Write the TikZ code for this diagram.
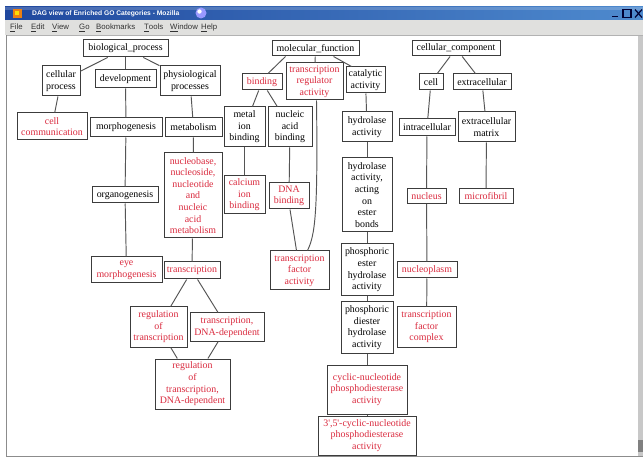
\documentclass[tikz,border=0pt]{standalone}
\usepackage{fontspec}
\setmainfont{Liberation Serif}
\newfontfamily\gofamily{Liberation Serif}
\newfontfamily\uifamily{Liberation Sans}
\newcommand\gofnt{\gofamily\fontsize{9.9}{11.6}\selectfont}
\newcommand\titlefnt{\uifamily\bfseries\fontsize{6.7}{8}\selectfont}
\newcommand\menufnt{\uifamily\fontsize{7.8}{9}\selectfont}
\definecolor{gored}{RGB}{218,42,62}
\definecolor{boxgray}{RGB}{60,60,60}
\definecolor{edgegray}{RGB}{85,85,85}
\definecolor{menugray}{RGB}{224,224,222}
\definecolor{tbleft}{RGB}{32,72,158}
\definecolor{tbright}{RGB}{78,138,206}
\definecolor{scrollgray}{RGB}{200,200,200}
\tikzset{
  gobox/.style={draw=boxgray, line width=1pt, fill=white, align=center,
    inner sep=1.2pt, font=\gofnt, text=black},
  redtxt/.style={text=gored},
  sz/.style 2 args={minimum width=#1pt, minimum height=#2pt},
  goedge/.style={draw=edgegray, line width=0.95pt},
  menuitem/.style={anchor=west, inner sep=0pt, font=\menufnt, text=black!80},
}
\begin{document}
\begin{tikzpicture}[x=1pt,y=-1pt]
\useasboundingbox (0,0) rectangle (643,457);
\fill[white] (0,0) rectangle (643,457);
% ---------- window chrome ----------
\shade[left color=tbleft, right color=tbright] (5,7) rectangle (643,20);
\fill[white, opacity=0.18] (5,7) rectangle (643,10);
\fill[menugray] (5,20) rectangle (643,35);
\draw[black!45, line width=0.8pt] (6.5,35.5) -- (6.5,456) -- (643,456);
\draw[black!30, line width=0.6pt] (6.5,35.5) -- (643,35.5);
\fill[scrollgray] (638,36) rectangle (643,456);
\fill[black!50] (638,440) rectangle (643,452);
% icons and buttons
\fill[orange!70!brown] (13,9) rectangle (22,18);
\fill[yellow!80!orange] (15,11) rectangle (19,15);
\node[anchor=west, inner sep=0pt, text=white, font=\titlefnt] (title) at (32,13.5)
  {DAG view of Enriched GO Categories - Mozilla};
\fill[white!60!blue] (201,13) circle (5.5);
\fill[white] (199.5,11.5) circle (2.2);
\draw[blue!20!black, line width=1.2pt] (612,16.5) -- (618,16.5);
\draw[blue!20!black, line width=1.1pt] (623,9.5) rectangle (631,17.5);
\draw[blue!20!black, line width=1.2pt] (635,9.5) -- (642,17.5) (642,9.5) -- (635,17.5);
% menu
\node[menuitem] (mfile) at (10,28) {\underline{F}ile};
\node[menuitem] (medit) at (31,28) {\underline{E}dit};
\node[menuitem] (mview) at (52,28) {\underline{V}iew};
\node[menuitem] (mgo) at (79,28) {\underline{G}o};
\node[menuitem] (mbook) at (96,28) {\underline{B}ookmarks};
\node[menuitem] (mtools) at (144,28) {\underline{T}ools};
\node[menuitem] (mwin) at (170,28) {\underline{W}indow};
\node[menuitem] (mhelp) at (201,28) {\underline{H}elp};
% ---------- biological_process ----------
\node[gobox, sz={85}{17}] (bp) at (125.5,48.5) {biological\_process};
\node[gobox, sz={38}{30}] (cp) at (61,81) {cellular\\process};
\node[gobox, sz={61}{18}] (dev) at (125.5,79) {development};
\node[gobox, sz={60}{30}] (pp) at (190,81) {physiological\\processes};
\node[gobox, redtxt, sz={70}{27}] (cc) at (52,126.5) {cell\\communication};
\node[gobox, sz={72}{19}] (morph) at (126,127.5) {morphogenesis};
\node[gobox, sz={57}{19}] (met) at (193.5,127.5) {metabolism};
\node[gobox, sz={66}{16}] (org) at (125,195) {organogenesis};
\node[gobox, redtxt, sz={58}{85}] (nuc) at (193,195.5) {nucleobase,\\nucleoside,\\nucleotide\\and\\nucleic\\acid\\metabolism};
\node[gobox, redtxt, sz={71}{26}] (eye) at (126.5,270) {eye\\morphogenesis};
\node[gobox, redtxt, sz={56}{17}] (trn) at (192,270.5) {transcription};
\node[gobox, redtxt, sz={57}{40}] (rot) at (158.5,327) {regulation\\of\\transcription};
\node[gobox, redtxt, sz={74}{28}] (tdd) at (227,327) {transcription,\\DNA-dependent};
\node[gobox, redtxt, sz={75}{50}] (rotdd) at (192.5,384) {regulation\\of\\transcription,\\DNA-dependent};
% ---------- molecular_function ----------
\node[gobox, sz={87}{15}] (mf) at (315.5,48.5) {molecular\_function};
\node[gobox, redtxt, sz={40}{16}] (bind) at (262,82) {binding};
\node[gobox, redtxt, sz={57}{37}] (tra) at (314.5,81.5) {transcription\\regulator\\activity};
\node[gobox, sz={39}{26}] (cat) at (365.5,80) {catalytic\\activity};
\node[gobox, sz={41}{40}] (mib) at (244.5,127) {metal\\ion\\binding};
\node[gobox, sz={44}{40}] (nab) at (290,127) {nucleic\\acid\\binding};
\node[gobox, redtxt, sz={41}{38}] (cib) at (244.5,195) {calcium\\ion\\binding};
\node[gobox, redtxt, sz={40}{26}] (dnab) at (289,196) {DNA\\binding};
\node[gobox, redtxt, sz={59}{39}] (tfa) at (299.5,270.5) {transcription\\factor\\activity};
\node[gobox, sz={50}{30}] (hyd) at (367,127) {hydrolase\\activity};
\node[gobox, sz={50}{74}] (hydes) at (367,195) {hydrolase\\activity,\\acting\\on\\ester\\bonds};
\node[gobox, sz={52}{52}] (pehy) at (367,270) {phosphoric\\ester\\hydrolase\\activity};
\node[gobox, sz={52}{51}] (pdhy) at (367,327.5) {phosphoric\\diester\\hydrolase\\activity};
\node[gobox, redtxt, sz={80}{49}] (cnpa) at (367,389.5) {cyclic-nucleotide\\phosphodiesterase\\activity};
\node[gobox, redtxt, sz={98}{39}] (c35) at (367,435.5) {3',5'-cyclic-nucleotide\\phosphodiesterase\\activity};
% ---------- cellular_component ----------
\node[gobox, sz={88}{15}] (ccomp) at (456,48.5) {cellular\_component};
\node[gobox, sz={24}{16}] (cell) at (431,82) {cell};
\node[gobox, sz={58}{16}] (ext) at (482,82) {extracellular};
\node[gobox, sz={56}{17}] (intra) at (427,127.5) {intracellular};
\node[gobox, sz={57}{30}] (exm) at (486.5,127) {extracellular\\matrix};
\node[gobox, redtxt, sz={39}{15}] (nucl) at (426.5,196) {nucleus};
\node[gobox, redtxt, sz={54}{15}] (mfib) at (486,196) {microfibril};
\node[gobox, redtxt, sz={60}{16}] (npl) at (427,270) {nucleoplasm};
\node[gobox, redtxt, sz={59}{40}] (tfc) at (426.5,327) {transcription\\factor\\complex};
% ---------- edges ----------
\draw[goedge] (bp) -- (cp);
\draw[goedge] (bp) -- (dev);
\draw[goedge] (bp) -- (pp);
\draw[goedge] (cp) -- (cc);
\draw[goedge] (dev) -- (morph);
\draw[goedge] (morph) -- (org);
\draw[goedge] (org) -- (eye);
\draw[goedge] (pp) -- (met);
\draw[goedge] (met) -- (nuc);
\draw[goedge] (nuc) -- (trn);
\draw[goedge] (trn) -- (rot);
\draw[goedge] (trn) -- (tdd);
\draw[goedge] (rot) -- (rotdd);
\draw[goedge] (tdd) -- (rotdd);
\draw[goedge] ([xshift=-30pt]mf.south) -- ([xshift=6pt]bind.north);
\draw[goedge] (mf) -- (tra);
\draw[goedge] ([xshift=18pt]mf.south) -- ([xshift=-14pt]cat.north);
\draw[goedge] (bind) -- (mib);
\draw[goedge] (bind) -- (nab);
\draw[goedge] (mib) -- (cib);
\draw[goedge] (nab) -- (dnab);
\draw[goedge] ([xshift=1pt]dnab.south) -- ([xshift=-3pt]tfa.north);
\draw[goedge] ([xshift=2pt]tra.south) .. controls (318,215) and (315,235) .. ([xshift=8pt]tfa.north);
\draw[goedge] (cat) -- (hyd);
\draw[goedge] (hyd) -- (hydes);
\draw[goedge] (hydes) -- (pehy);
\draw[goedge] (pehy) -- (pdhy);
\draw[goedge] (pdhy) -- (cnpa);
\draw[goedge] (cnpa) -- (c35);
\draw[goedge] (ccomp) -- (cell);
\draw[goedge] (ccomp) -- (ext);
\draw[goedge] (cell) -- (intra);
\draw[goedge] (intra) -- (nucl);
\draw[goedge] (nucl) -- (npl);
\draw[goedge] (npl) -- (tfc);
\draw[goedge] (ext) -- (exm);
\draw[goedge] (exm) -- (mfib);
\end{tikzpicture}
\end{document}
